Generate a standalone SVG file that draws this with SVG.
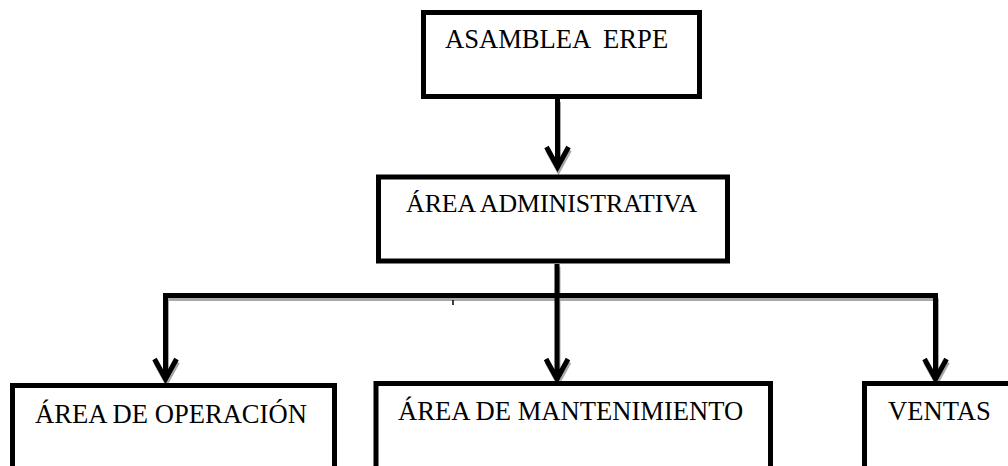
<svg xmlns="http://www.w3.org/2000/svg" width="1008" height="466" viewBox="0 0 1008 466">
<style>
.box{fill:#fff;stroke:#000;stroke-width:5}
.t{font-family:"Liberation Serif","Times New Roman",serif;font-size:26.6px;fill:#000;white-space:pre}
.ln{fill:none;stroke:#000;stroke-width:5;stroke-linejoin:miter}
.sh{fill:none;stroke:#a8a8a8;stroke-width:5;stroke-linejoin:miter}
</style>
<rect width="1008" height="466" fill="#fff"/>
<g id="connectors">
  <g transform="translate(1,3)">
    <path class="sh" d="M557.5,99 V168 M546.5,147 L557.5,167 L568.5,147"/>
    <path class="sh" d="M165.5,295.5 H935.5 M165.5,295.5 V380 M557,264 V380 M935.5,295.5 V380 M154.5,359 L165.5,379 L176.5,359 M546,359 L557,379 L568,359 M924.5,359 L935.5,379 L946.5,359"/>
  </g>
  <path class="ln" d="M557.5,99 V168 M546.5,147 L557.5,167 L568.5,147"/>
  <path class="ln" d="M163,295.5 H938 M165.5,293 V380 M557,264 V380 M935.5,293 V380 M154.5,359 L165.5,379 L176.5,359 M546,359 L557,379 L568,359 M924.5,359 L935.5,379 L946.5,359"/>
  <line x1="453" y1="300" x2="453" y2="305" stroke="#000" stroke-width="1.5"/>
</g>
<g id="asamblea">
  <rect class="box" x="423.5" y="12.5" width="276" height="84"/>
  <text class="t" x="445" y="48">ASAMBLEA  ERPE</text>
</g>
<g id="administrativa">
  <rect class="box" x="378.5" y="177" width="349" height="84"/>
  <text class="t" x="406" y="212" style="font-size:25.8px">ÁREA ADMINISTRATIVA</text>
</g>
<g id="operacion">
  <rect class="box" x="12.5" y="385.5" width="322" height="110"/>
  <text class="t" x="35" y="423">ÁREA DE OPERACIÓN</text>
</g>
<g id="mantenimiento">
  <rect class="box" x="376" y="383.5" width="394.5" height="110"/>
  <text class="t" x="398" y="420">ÁREA DE MANTENIMIENTO</text>
</g>
<g id="ventas">
  <rect class="box" x="864.5" y="383.5" width="200" height="110"/>
  <text class="t" x="888" y="420">VENTAS</text>
</g>
</svg>
